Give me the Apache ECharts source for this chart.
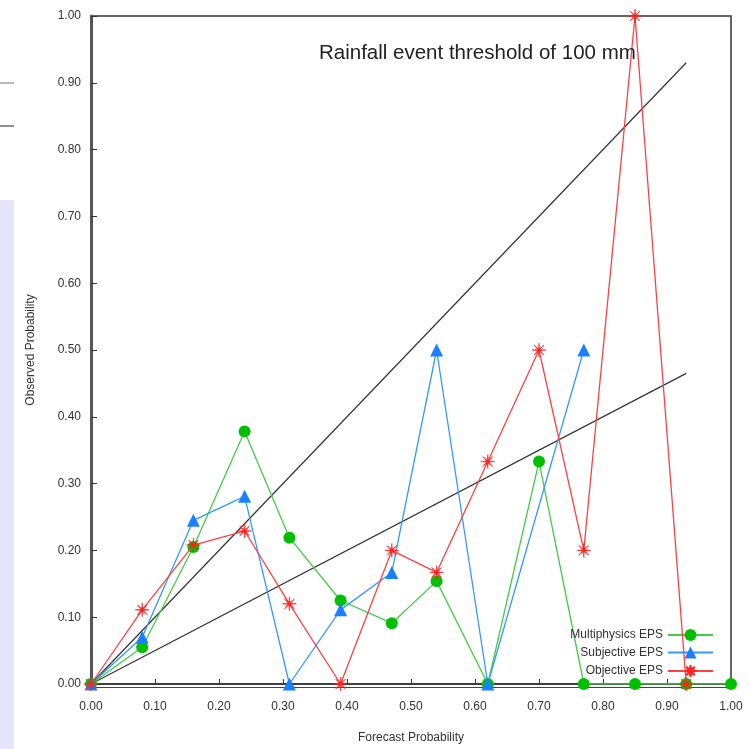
<!DOCTYPE html>
<html><head><meta charset="utf-8">
<script src="https://cdn.jsdelivr.net/npm/echarts@6/dist/echarts.min.js"></script>
<style>html,body{margin:0;padding:0;background:#fff}#c{width:749px;height:749px}</style>
</head><body><div id="c"></div>
<script>
// ---- data ----
const titleText = "Rainfall event threshold of 100 mm";
const xName = "Forecast Probability";
const yName = "Observed Probability";
const seriesNames = ["Multiphysics EPS", "Subjective EPS", "Objective EPS"];
const multiX = [0, 0.08, 0.16, 0.24, 0.31, 0.39, 0.47, 0.54, 0.62, 0.70, 0.77, 0.85, 0.93, 1.00];
const multiY = [0, 0.055, 0.205, 0.378, 0.219, 0.125, 0.091, 0.154, 0, 0.333, 0, 0, 0, 0];
const subjX = [0, 0.08, 0.16, 0.24, 0.31, 0.39, 0.47, 0.54, 0.62, 0.77];
const subjY = [0, 0.07, 0.245, 0.281, 0, 0.111, 0.167, 0.5, 0, 0.5];
const objX = [0, 0.08, 0.16, 0.24, 0.31, 0.39, 0.47, 0.54, 0.62, 0.70, 0.77, 0.85, 0.93];
const objY = [0, 0.111, 0.208, 0.229, 0.12, 0, 0.2, 0.167, 0.333, 0.5, 0.2, 1.0, 0];
const perfectX = [0, 0.93];
const perfectY = [0, 0.93];
const noSkillX = [0, 0.93];
const noSkillY = [0, 0.465];

const pairs = (xs, ys) => xs.map((x, i) => [x, ys[i]]);

// asterisk symbol path (8-arm star polygon)
function asteriskPath() {
  let pts = [];
  for (let k = 0; k < 16; k++) {
    const a = k * Math.PI / 8;
    const r = (k % 2 === 0) ? 10 : 2.0;
    pts.push([(10 + r * Math.cos(a)).toFixed(3), (10 + r * Math.sin(a)).toFixed(3)]);
  }
  return 'path://M' + pts.map(p => p.join(',')).join('L') + 'Z';
}
const AST = asteriskPath();

const font = 'Liberation Sans, Arial, Helvetica, sans-serif';
const chart = echarts.init(document.getElementById('c'), null, {renderer: 'canvas'});
chart.setOption({
  animation: false,
  backgroundColor: '#fff',
  textStyle: {fontFamily: font},
  grid: {left: 91, right: 18, top: 16, bottom: 61, show: true, borderColor: '#333', borderWidth: 1.5, containLabel: false},
  title: {text: titleText, left: 314, top: 38, textStyle: {fontFamily: font, fontSize: 20.5, fontWeight: 'normal', color: '#222'}},
  legend: {
    orient: 'vertical', right: 30, top: 624, align: 'right', itemWidth: 45, itemHeight: 15, itemGap: 5.5,
    data: seriesNames,
    textStyle: {fontFamily: font, fontSize: 12, color: '#333', padding: [0, 0, 0, 0]}
  },
  xAxis: [{
    type: 'value', min: 0, max: 1, interval: 0.1,
    name: xName, nameLocation: 'middle', nameGap: 48,
    nameTextStyle: {fontFamily: font, fontSize: 12, color: '#333'},
    axisLine: {show: true, onZero: false, lineStyle: {color: '#333', width: 1.5}},
    axisTick: {show: true, inside: true, length: 5, lineStyle: {color: '#333'}},
    axisLabel: {formatter: v => v.toFixed(2), fontSize: 12, color: '#333', margin: 17, fontFamily: font},
    splitLine: {show: false}
  }, {
    type: 'value', min: 0, max: 1, position: 'bottom', offset: 3,
    axisLine: {show: true, onZero: false, lineStyle: {color: '#444', width: 1.2}},
    axisTick: {show: false}, axisLabel: {show: false}, splitLine: {show: false}
  }],
  yAxis: {
    type: 'value', min: 0, max: 1, interval: 0.1,
    name: yName, nameLocation: 'middle', nameGap: 54,
    nameTextStyle: {fontFamily: font, fontSize: 12, color: '#333'},
    axisLine: {show: true, onZero: false, lineStyle: {color: '#555', width: 3}},
    axisTick: {show: true, inside: true, length: 6, lineStyle: {color: '#333'}},
    axisLabel: {formatter: v => v.toFixed(2), fontSize: 12, color: '#333', margin: 10, fontFamily: font},
    splitLine: {show: false}
  },
  series: [
    {type: 'line', name: 'perfect', data: pairs(perfectX, perfectY), showSymbol: false, symbol: 'none',
     lineStyle: {color: '#333', width: 1.2}, silent: true, z: 1},
    {type: 'line', name: 'noskill', data: pairs(noSkillX, noSkillY), showSymbol: false, symbol: 'none',
     lineStyle: {color: '#333', width: 1.2}, silent: true, z: 1},
    {type: 'line', name: seriesNames[0], data: pairs(multiX, multiY), symbol: 'circle', symbolSize: 12,
     lineStyle: {color: '#44cc44', width: 1.3}, itemStyle: {color: '#00c000'}, z: 3},
    {type: 'line', name: seriesNames[1], data: pairs(subjX, subjY), symbol: 'triangle', symbolSize: 13,
     lineStyle: {color: '#3399ff', width: 1.3}, itemStyle: {color: '#1a80ff'}, z: 4},
    {type: 'line', name: seriesNames[2], data: pairs(objX, objY), symbol: AST, symbolSize: 14,
     lineStyle: {color: '#ff4040', width: 1.3}, itemStyle: {color: '#ff2020', borderColor: '#ff2020', borderWidth: 0.6}, z: 5}
  ],
  graphic: [
    {type: 'rect', shape: {x: 0, y: 200, width: 14, height: 549}, style: {fill: '#e6e6fa'}, silent: true},
    {type: 'line', shape: {x1: 0, y1: 83, x2: 14, y2: 83}, style: {stroke: '#bbb', lineWidth: 2}, silent: true},
    {type: 'line', shape: {x1: 0, y1: 126, x2: 14, y2: 126}, style: {stroke: '#444', lineWidth: 1.2}, silent: true}
  ]
});
</script></body></html>
